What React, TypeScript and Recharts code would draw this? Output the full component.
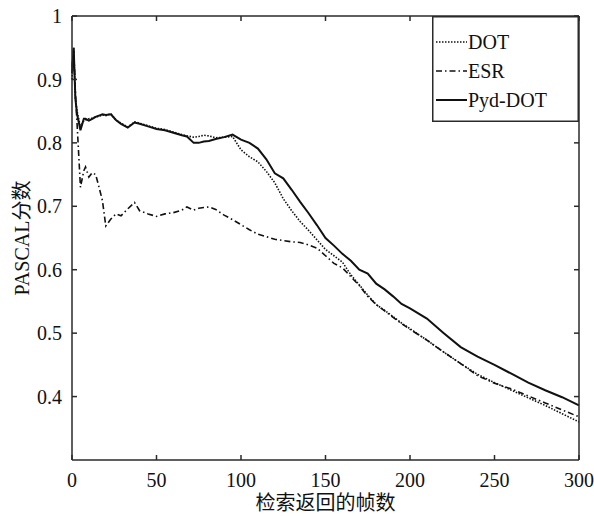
import { LineChart, Line, XAxis, YAxis, Legend } from "recharts";

const frames = [
  0, 1, 2, 3, 5, 7, 8, 10, 12, 14, 16, 18, 20, 23, 26, 29, 33, 37, 40, 45, 50, 55, 60, 65, 68,
  72, 75, 78, 81, 85, 90, 95, 100, 105, 110, 115, 120, 125, 130, 135, 140, 145, 150, 155, 160,
  165, 170, 175, 180, 185, 190, 195, 200, 210, 220, 230, 240, 250, 260, 270, 280, 290, 300
];

const dotScores = [
  0.9, 0.945, 0.87, 0.85, 0.825, 0.835, 0.836, 0.838, 0.839, 0.841, 0.842, 0.844, 0.843, 0.846,
  0.836, 0.831, 0.825, 0.833, 0.831, 0.827, 0.823, 0.821, 0.817, 0.813, 0.811, 0.809, 0.81,
  0.812, 0.811, 0.808, 0.809, 0.81, 0.789, 0.778, 0.77, 0.755, 0.737, 0.712, 0.693, 0.676,
  0.662, 0.647, 0.632, 0.622, 0.612, 0.592, 0.576, 0.56, 0.545, 0.536, 0.526, 0.516, 0.507,
  0.489, 0.47, 0.452, 0.435, 0.422, 0.41, 0.398, 0.386, 0.373, 0.36
];

const esrScores = [
  0.92, 0.95, 0.88, 0.83, 0.73, 0.756, 0.762, 0.746, 0.753, 0.75, 0.73, 0.709, 0.669, 0.68,
  0.688, 0.685, 0.696, 0.706, 0.693, 0.688, 0.684, 0.688, 0.69, 0.694, 0.699, 0.694, 0.697,
  0.698, 0.699, 0.695, 0.686, 0.679, 0.671, 0.663, 0.656, 0.652, 0.648, 0.646, 0.644, 0.643,
  0.639, 0.634, 0.622, 0.61, 0.603, 0.589, 0.575, 0.558, 0.545, 0.535, 0.525, 0.515, 0.506,
  0.489, 0.47, 0.452, 0.433, 0.421, 0.412, 0.401, 0.39, 0.379, 0.368
];

const pydScores = [
  0.91, 0.95, 0.87, 0.845, 0.82, 0.838, 0.838, 0.835, 0.838, 0.841, 0.843, 0.845, 0.844, 0.845,
  0.836, 0.83, 0.824, 0.832, 0.83, 0.826, 0.822, 0.82, 0.816, 0.812, 0.81, 0.8, 0.8, 0.802,
  0.803, 0.806, 0.809, 0.813, 0.805, 0.8, 0.791, 0.774, 0.752, 0.744, 0.726, 0.707, 0.689,
  0.67, 0.65, 0.638, 0.625, 0.614, 0.6, 0.594, 0.578, 0.569, 0.558, 0.546, 0.539, 0.523, 0.5,
  0.478, 0.463, 0.45, 0.436, 0.422, 0.41, 0.399, 0.386
];

const xTicks = [0, 50, 100, 150, 200, 250, 300];
const yTicks = [0.4, 0.5, 0.6, 0.7, 0.8, 0.9, 1];

const series = [
  { key: "dot", name: "DOT", dash: "1.5 1.5", width: 1.6 },
  { key: "esr", name: "ESR", dash: "6 3 1.5 3", width: 1.6 },
  { key: "pyd", name: "Pyd-DOT", dash: undefined, width: 2 }
];

const data = frames.map((frame, i) => ({
  frame,
  dot: dotScores[i],
  esr: esrScores[i],
  pyd: pydScores[i]
}));

const font = "'Liberation Serif', Tinos, 'Times New Roman', 'DejaVu Serif', serif, 'Noto Sans CJK SC'";
const ink = "#111";
const axisInk = "#2a2a2a";

const tickStyle = { fill: ink, fontSize: 20, fontFamily: font };

const renderLegend = () => (
  <svg width={147} height={106} style={{ display: "block" }}>
    <rect x={0.75} y={0.75} width={145.5} height={104.5} fill="#fff" stroke={axisInk} strokeWidth={1.5} />
    {series.map((s, i) => {
      const y = 26 + i * 29;
      return (
        <g key={s.key}>
          <line x1={4} x2={35} y1={y} y2={y} stroke={ink} strokeWidth={s.width} strokeDasharray={s.dash} />
          <text x={36} y={y} dy="0.35em" fontSize={20} fontFamily={font} fill={ink}>
            {s.name}
          </text>
        </g>
      );
    })}
  </svg>
);

export default function App() {
  return (
    <div style={{ position: "absolute", left: 0, top: 0, width: 594, height: 516, background: "#fff" }}>
      <LineChart width={594} height={516} data={data} margin={{ top: 15, right: 14, bottom: 0, left: 0 }}>
        <XAxis
          dataKey="frame"
          type="number"
          domain={[0, 300]}
          ticks={xTicks}
          height={56}
          tickSize={-5}
          tickMargin={18}
          stroke={axisInk}
          strokeWidth={1.5}
          tick={tickStyle}
          label={{
            value: "检索返回的帧数",
            position: "insideBottom",
            offset: 6,
            fill: ink,
            fontSize: 20,
            fontFamily: font
          }}
        />
        {/* frame only: top and right axes with inward ticks, no labels */}
        <XAxis
          xAxisId="top"
          dataKey="frame"
          orientation="top"
          type="number"
          domain={[0, 300]}
          ticks={xTicks}
          height={1}
          tickSize={-5}
          tickFormatter={() => ""}
          stroke={axisInk}
          strokeWidth={1.5}
        />
        <YAxis
          type="number"
          domain={[0.3, 1]}
          ticks={yTicks}
          width={72}
          tickSize={-5}
          tickMargin={15}
          stroke={axisInk}
          strokeWidth={1.5}
          tick={tickStyle}
          tickFormatter={(v: number) => String(v)}
          label={{
            value: "PASCAL分数",
            angle: -90,
            position: "insideLeft",
            offset: 22,
            fill: ink,
            fontSize: 20,
            fontFamily: font,
            style: { textAnchor: "middle" }
          }}
        />
        <YAxis
          yAxisId="right"
          orientation="right"
          type="number"
          domain={[0.3, 1]}
          ticks={yTicks}
          width={1}
          tickSize={-5}
          tickFormatter={() => ""}
          stroke={axisInk}
          strokeWidth={1.5}
        />
        <Line
          xAxisId="top"
          yAxisId="right"
          dataKey="pyd"
          stroke="none"
          dot={false}
          activeDot={false}
          legendType="none"
          isAnimationActive={false}
        />
        {series.map((s) => (
          <Line
            key={s.key}
            dataKey={s.key}
            name={s.name}
            type="linear"
            stroke={ink}
            strokeWidth={s.width}
            strokeDasharray={s.dash}
            dot={false}
            activeDot={false}
            isAnimationActive={false}
          />
        ))}
        <Legend
          layout="vertical"
          align="center"
          verticalAlign="middle"
          content={renderLegend}
          wrapperStyle={{ position: "absolute", left: 432, top: 16, width: 147, height: 106 }}
        />
      </LineChart>
    </div>
  );
}
